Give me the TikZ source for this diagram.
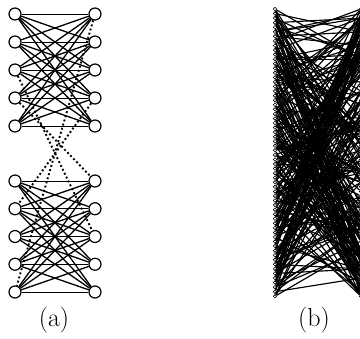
\documentclass[tikz,border=0pt]{standalone}
\usepackage{tikz}
\usetikzlibrary{positioning,calc}

\begin{document}
\begin{tikzpicture}[x=1pt,y=-1pt,
  vtx/.style={circle,draw,fill=white,line width=1.2pt,inner sep=0pt,minimum size=12pt},
  dot/.style={circle,draw,fill=white,line width=0.6pt,inner sep=0pt,minimum size=3.4pt},
  edg/.style={line width=1.3pt},
  hor/.style={line width=0.6pt},
  cross/.style={line width=1.9pt,dash pattern=on 1.9pt off 2.4pt},
  bedg/.style={line width=1.15pt},
  lbl/.style={font=\fontsize{26}{30}\selectfont}]
\useasboundingbox (0,0) rectangle (360,339);
\foreach \k in {1,...,5}{
  \node[vtx] (tl\k) at (15,{14+28*(\k-1)}) {};
  \node[vtx] (tr\k) at (95,{14+28*(\k-1)}) {};
  \node[vtx] (ul\k) at (15,{181+27.75*(\k-1)}) {};
  \node[vtx] (ur\k) at (95,{181+27.75*(\k-1)}) {};
}
\foreach \a in {1,...,5}{
  \foreach \b in {1,...,5}{
    \ifnum\a=\b
      \draw[hor] (tl\a) -- (tr\b);
      \draw[hor] (ul\a) -- (ur\b);
    \else
      \draw[edg] (tl\a) -- (tr\b);
      \draw[edg] (ul\a) -- (ur\b);
    \fi
  }
}
\draw[cross] (tr1) -- (ul5);
\draw[cross] (tl3) -- (ur3);
\draw[cross] (tl4) -- (ur1);
\draw[cross] (tr4) -- (ul2);
\foreach \i in {0,...,63}{
  \node[dot] (bl\i) at (275,{9+4.56*\i}) {};
  \node[dot] (br\i) at (361,{9+4.56*\i}) {};
}
\pgfmathsetseed{7}
\foreach \i in {0,...,63}{
  \foreach \k in {1,...,4}{
    \pgfmathrandominteger{\j}{0}{63}
    \draw[bedg] (bl\i) -- (br\j);
  }
}
\node[lbl] (capa) at (54,320) {(a)};
\node[lbl] (capb) at (314,320) {(b)};
\end{tikzpicture}
\end{document}
